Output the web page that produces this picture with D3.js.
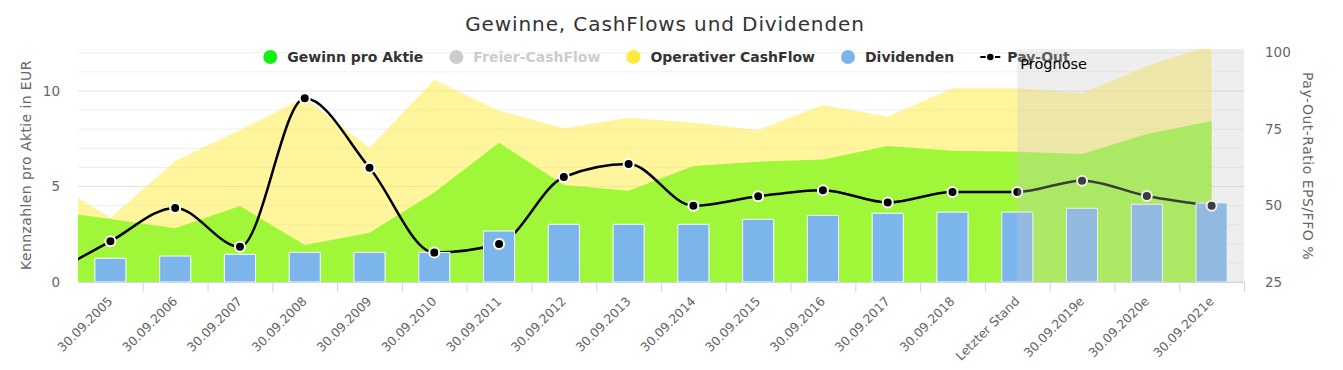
<!DOCTYPE html>
<html>
<head>
<meta charset="utf-8">
<script src="https://cdnjs.cloudflare.com/ajax/libs/d3/7.8.5/d3.min.js"></script>
<style>
  body { margin: 0; background: #fff; }
  text { font-family: "DejaVu Sans", sans-serif; }
</style>
</head>
<body>
<script>
/* chart data */
const categories = ['30.09.2005', '30.09.2006', '30.09.2007', '30.09.2008', '30.09.2009',
  '30.09.2010', '30.09.2011', '30.09.2012', '30.09.2013', '30.09.2014', '30.09.2015',
  '30.09.2016', '30.09.2017', '30.09.2018', 'Letzter Stand', '30.09.2019e',
  '30.09.2020e', '30.09.2021e'];
const gewinn = [3.3, 2.81, 3.98, 1.94, 2.58, 4.68, 7.29, 5.08, 4.78, 6.07, 6.3, 6.42,
  7.12, 6.87, 6.82, 6.7, 7.75, 8.43];
const operativ = [3.37, 6.34, 7.96, 9.65, 7.03, 10.58, 8.97, 8.05, 8.6, 8.34, 7.96, 9.27,
  8.65, 10.14, 10.14, 9.88, 11.31, 12.4];
const dividenden = [1.24, 1.36, 1.45, 1.55, 1.55, 1.55, 2.67, 3.02, 3.02, 3.02, 3.28, 3.48,
  3.6, 3.66, 3.66, 3.86, 4.07, 4.14];
const payout = [38.3, 49.2, 36.5, 85.0, 62.3, 34.6, 37.4, 59.3, 63.5, 49.9, 53.0, 55.0,
  51.0, 54.4, 54.4, 58.1, 53.1, 49.9];
// year before the first category (30.09.2004): only the clipped start of the curves shows
const prevGewinn = 3.77, prevOperativ = 5.45, prevPayout = 26.5;
const leftTicks = [0, 5, 10];
const rightTicks = [25, 50, 75, 100];
const prognoseStart = 14; // index of 'Letzter Stand'

/* layout */
const W = 1343, H = 370;
const plot = { left: 78, right: 1244, top: 49, bottom: 282 };

const svg = d3.select('body').append('svg')
  .attr('width', W).attr('height', H);

/* scales */
const x = d3.scaleBand().domain(categories).range([plot.left, plot.right]);
const xi = d3.scaleLinear().domain([-0.5, categories.length - 0.5]).range([plot.left, plot.right]);
const yL = d3.scaleLinear().domain([0, 12.2]).range([plot.bottom, plot.top]);
const yR = d3.scaleLinear().domain([25, 101.1]).range([plot.bottom, plot.top]);

svg.append('clipPath').attr('id', 'clip')
  .append('rect')
  .attr('x', plot.left).attr('y', plot.top)
  .attr('width', plot.right - plot.left).attr('height', plot.bottom - plot.top);

/* grid lines */
svg.append('g').selectAll('line')
  .data(d3.range(0, 13))
  .enter().append('line')
  .attr('x1', plot.left).attr('x2', plot.right)
  .attr('y1', d => yL(d)).attr('y2', d => yL(d))
  .attr('stroke', d => d % 5 === 0 ? '#e2e2e2' : '#efefef')
  .attr('stroke-width', 1);

const withPrev = (prev, arr) => [[-1, prev]].concat(arr.map((v, i) => [i, v]));

const area = d3.area()
  .x(d => xi(d[0]))
  .y0(yL(0))
  .y1(d => yL(d[1]));

const series = svg.append('g').attr('clip-path', 'url(#clip)');

series.append('path')
  .datum(withPrev(prevOperativ, operativ))
  .attr('d', area)
  .attr('fill', '#ffeb3b')
  .attr('fill-opacity', 0.5);

series.append('path')
  .datum(withPrev(prevGewinn, gewinn))
  .attr('d', area)
  .attr('fill', '#a0f73a');

/* dividend bars */
const barW = x.bandwidth() * 0.48;
svg.append('g').selectAll('rect')
  .data(dividenden)
  .enter().append('rect')
  .attr('x', (d, i) => x(categories[i]) + (x.bandwidth() - barW) / 2)
  .attr('y', d => yL(d))
  .attr('width', barW)
  .attr('height', d => yL(0) - yL(d))
  .attr('fill', '#7cb5ec')
  .attr('stroke', '#fff')
  .attr('stroke-width', 1);

/* pay-out line */
const line = d3.line()
  .x(d => xi(d[0]))
  .y(d => yR(d[1]))
  .curve(d3.curveMonotoneX);

series.append('path')
  .datum(withPrev(prevPayout, payout))
  .attr('d', line)
  .attr('fill', 'none')
  .attr('stroke', '#000')
  .attr('stroke-width', 2.5);

svg.append('g').selectAll('circle')
  .data(payout)
  .enter().append('circle')
  .attr('cx', (d, i) => xi(i))
  .attr('cy', d => yR(d))
  .attr('r', 5)
  .attr('fill', '#000')
  .attr('stroke', '#fff')
  .attr('stroke-width', 2);

/* x axis */
const xAxis = svg.append('g')
  .attr('transform', `translate(0,${plot.bottom})`)
  .call(d3.axisBottom(x).tickSize(0).tickSizeOuter(0));
xAxis.select('.domain').attr('stroke', '#ccd6eb');
xAxis.selectAll('text')
  .attr('x', null).attr('y', null).attr('dy', null)
  .attr('transform', 'translate(3,20) rotate(-45)')
  .style('text-anchor', 'end')
  .style('font-size', '12.5px')
  .attr('fill', '#666');

const xTicks = svg.append('g')
  .attr('transform', `translate(0,${plot.bottom})`)
  .call(d3.axisBottom(xi).tickValues(d3.range(0.5, categories.length, 1)).tickSize(10).tickFormat(''));
xTicks.select('.domain').remove();
xTicks.selectAll('line').attr('stroke', '#ccd6eb');

/* y axes */
const leftAxis = svg.append('g')
  .attr('transform', `translate(${plot.left},0)`)
  .call(d3.axisLeft(yL).tickValues(leftTicks).tickSize(0).tickPadding(18));
leftAxis.select('.domain').remove();
leftAxis.selectAll('text').style('font-size', '13.5px').attr('fill', '#666');

const rightAxis = svg.append('g')
  .attr('transform', `translate(${plot.right},0)`)
  .call(d3.axisRight(yR).tickValues(rightTicks).tickSize(0).tickPadding(21));
rightAxis.select('.domain').remove();
rightAxis.selectAll('text').style('font-size', '13.5px').attr('fill', '#666');

svg.append('text')
  .attr('transform', 'translate(31,165) rotate(-90)')
  .attr('text-anchor', 'middle')
  .style('font-size', '14px')
  .style('letter-spacing', '0.4px')
  .attr('fill', '#666')
  .text('Kennzahlen pro Aktie in EUR');

svg.append('text')
  .attr('transform', 'translate(1303,166) rotate(90)')
  .attr('text-anchor', 'middle')
  .style('font-size', '14px')
  .style('letter-spacing', '0.5px')
  .attr('fill', '#666')
  .text('Pay-Out-Ratio EPS/FFO %');

/* title */
svg.append('text')
  .attr('x', 665).attr('y', 31)
  .attr('text-anchor', 'middle')
  .style('font-size', '20px')
  .style('letter-spacing', '0.9px')
  .attr('fill', '#333')
  .text('Gewinne, CashFlows und Dividenden');

/* legend */
const legendItems = [
  { name: 'Gewinn pro Aktie', color: '#11f211', type: 'circle', text: '#333' },
  { name: 'Freier-CashFlow', color: '#ccc', type: 'circle', text: '#ccc' },
  { name: 'Operativer CashFlow', color: '#ffeb3b', type: 'circle', text: '#333' },
  { name: 'Dividenden', color: '#7cb5ec', type: 'circle', text: '#333' },
  { name: 'Pay-Out', color: '#000', type: 'line', text: '#333' }
];
const legend = svg.append('g');
const ly = 57, itemGap = 26;
let lx = 0;
legendItems.forEach(item => {
  const g = legend.append('g');
  const symW = item.type === 'circle' ? 14 : 20;
  if (item.type === 'circle') {
    g.append('circle').attr('cx', lx + 7).attr('cy', ly).attr('r', 7).attr('fill', item.color);
  } else {
    g.append('line').attr('x1', lx).attr('x2', lx + symW).attr('y1', ly).attr('y2', ly)
      .attr('stroke', item.color).attr('stroke-width', 2);
    g.append('circle').attr('cx', lx + symW / 2).attr('cy', ly).attr('r', 4)
      .attr('fill', item.color).attr('stroke', '#fff').attr('stroke-width', 1.5);
  }
  const t = g.append('text')
    .attr('x', lx + symW + (item.type === 'circle' ? 10 : 7))
    .attr('y', ly + 5)
    .style('font-size', '14px')
    .style('font-weight', 'bold')
    .attr('fill', item.text)
    .text(item.name);
  lx += symW + (item.type === 'circle' ? 10 : 7) + t.node().getComputedTextLength() + itemGap;
});
const legendW = lx - itemGap;
legend.attr('transform', `translate(${666.5 - legendW / 2},0)`);

/* forecast band */
svg.append('rect')
  .attr('x', xi(prognoseStart)).attr('y', plot.top)
  .attr('width', plot.right - xi(prognoseStart))
  .attr('height', plot.bottom - plot.top)
  .attr('fill', 'rgba(200,200,200,0.3)');

svg.append('text')
  .attr('x', xi(prognoseStart) + 3).attr('y', 69)
  .style('font-size', '14.5px')
  .attr('fill', '#000')
  .text('Prognose');
</script>
</body>
</html>
